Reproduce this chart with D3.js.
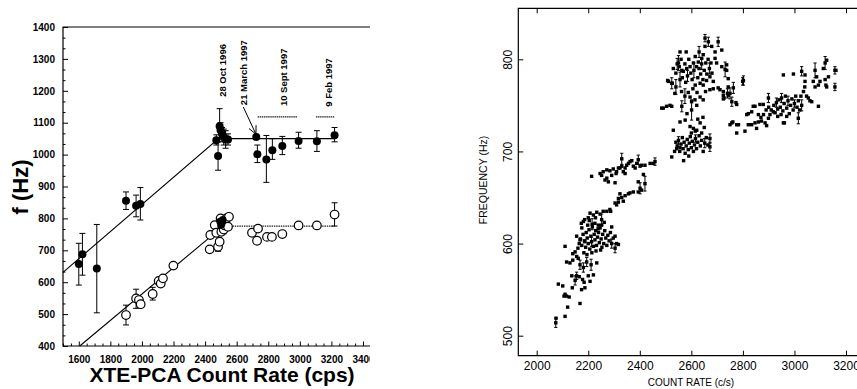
<!DOCTYPE html>
<html>
<head>
<meta charset="utf-8">
<script src="https://cdn.jsdelivr.net/npm/d3@7"></script>
<style>
  body { margin: 0; background: #fff; }
  svg { display: block; font-family: "Liberation Sans", Arial, sans-serif; }
</style>
</head>
<body>
<svg id="chart" width="857" height="389"></svg>
<script>
// ---------- left panel data: [rate, f, errLow, errHigh]
const upperQpo = [
  [1600, 657, 591, 722], [1623, 688, 622, 753], [1714, 643, 504, 781],
  [1899, 855, 828, 883], [1963, 840, 805, 873], [1990, 845, 795, 897],
  [2471, 1045, 1030, 1062], [2482, 996, 951, 1040], [2492, 1089, 1050, 1144],
  [2498, 1076, 1050, 1100], [2507, 1066, 1040, 1085], [2518, 1055, 1030, 1080],
  [2530, 1047, 1020, 1075], [2545, 1047, 1030, 1065], [2724, 1055, null, null],
  [2731, 1001, 975, 1030], [2788, 985, 913, 1060], [2826, 1014, 985, 1050],
  [2889, 1027, 1000, 1057], [2992, 1043, 1020, 1070], [3108, 1042, 1010, 1075],
  [3220, 1061, 1040, 1085]
];
const lowerQpo = [
  [1899, 497, 466, 528], [1963, 549, 518, 578], [1981, 544, null, null],
  [1992, 531, null, null], [2068, 563, 544, 584], [2106, 604, null, null],
  [2119, 596, null, null], [2133, 612, null, null], [2199, 652, null, null],
  [2429, 703, null, null], [2433, 748, null, null], [2461, 779, null, null],
  [2471, 755, null, null], [2482, 711, 697, 725], [2492, 727, null, null],
  [2498, 800, null, null], [2503, 758, null, null], [2513, 789, null, null],
  [2518, 765, 752, 778], [2524, 778, null, null], [2535, 800, null, null],
  [2545, 774, null, null], [2551, 805, null, null], [2697, 755, null, null],
  [2735, 768, null, null], [2729, 730, null, null], [2792, 742, null, null],
  [2823, 742, null, null], [2889, 751, null, null], [2992, 778, 773, 783],
  [3108, 778, 772, 784], [3220, 812, 776, 849]
];
const lowerFilled = [[2495, 790], [2505, 784], [2512, 796], [2500, 779]];
const upperFit = [[1500, 631], [2485, 1050], [3220, 1050]];
const lowerFitRise = [[1606, 400], [2515, 776]];
const lowerFitFlat = [[2515, 776], [3220, 776]];
const epochBars = [[2733, 2986, 1118], [3102, 3220, 1118]];
const epochLabels = [
  ['28 Oct 1996', 2511, 1181], ['21 March 1997', 2642, 1155],
  ['10 Sept 1997', 2900, 1152], ['9 Feb 1997', 3180, 1150]
];
const arrowFromTo = [[2642, 1149], [2722, 1064]];
const leftXTicks = d3.range(1600, 3401, 200);
const leftYTicks = d3.range(400, 1401, 100);

// ---------- right panel data: [rate, freq, err]
const lowBranch = [
  [2074,514,5],[2075,519,0],[2110,521,0],[2120,531,0],[2168,535,0],[2084,556,0],[2101,554,0],
  [2106,543,0],[2110,545,0],[2116,543,0],[2126,542,0],[2138,552,0],[2149,560,5],[2136,565,0],
  [2155,565,4],[2165,564,0],[2178,561,0],[2184,558,0],[2174,550,0],[2187,552,0],[2200,565,0],
  [2220,566,0],[2207,559,0],[2110,597,0],[2116,580,0],[2129,579,0],[2140,582,0],[2140,589,0],
  [2149,591,0],[2155,586,0],[2161,584,0],[2168,577,5],[2181,574,5],[2194,580,5],[2211,577,6],
  [2233,579,0],[2160,595,0],[2165,600,0],[2170,605,0],[2175,598,0],[2180,610,0],[2185,603,0],
  [2190,596,0],[2192,612,0],[2196,606,0],[2200,600,0],[2203,615,0],[2206,594,0],[2210,608,0],
  [2213,602,5],[2216,618,0],[2220,597,0],[2223,610,0],[2226,604,0],[2229,614,0],[2232,598,0],
  [2236,607,0],[2240,612,0],[2243,601,0],[2246,617,0],[2250,605,0],[2253,596,0],[2256,610,0],
  [2260,600,0],[2264,614,0],[2268,606,0],[2272,598,0],[2276,609,0],[2281,603,0],[2286,612,0],
  [2291,600,5],[2297,606,0],[2304,595,5],[2310,600,0],[2317,599,0],[2173,622,0],[2186,626,0],
  [2198,620,0],[2204,625,0],[2215,621,6],[2228,628,0],[2238,616,0],[2252,620,0],[2262,623,0],
  [2183,590,0],[2195,588,0],[2214,590,0],[2230,592,0],[2248,593,0],[2168,604,0],[2187,602,0],
  [2181,624,0],[2200,628,0],[2207,633,0],[2220,631,0],[2233,634,0],[2246,632,0],[2258,635,0],
  [2272,635,0],[2287,635,0],[2252,626,6],[2226,622,0],[2239,620,0],[2291,618,0],[2304,608,0],
  [2175,617,0],[2155,608,0]
];
const midBranch = [
  [2304,644,0],[2317,645,0],[2330,650,0],[2323,654,0],[2343,652,0],[2362,655,0],[2375,656,0],
  [2394,656,0],[2407,658,0],[2310,642,0],[2336,646,0],[2356,654,0],[2317,649,0],[2284,637,0],
  [2213,673,0],[2246,676,0],[2252,674,0],[2258,678,0],[2265,669,0],[2272,671,0],[2272,680,0],
  [2278,667,0],[2284,679,0],[2291,674,0],[2297,681,0],[2304,666,0],[2308,676,0],[2310,678,0],
  [2317,682,0],[2323,682,0],[2330,692,6],[2330,684,0],[2336,678,0],[2343,676,0],[2343,682,0],
  [2349,685,0],[2356,687,0],[2362,689,0],[2369,690,0],[2375,684,0],[2382,682,0],[2388,687,0],
  [2394,691,5],[2401,684,0],[2407,685,0],[2414,675,0],[2420,685,0],[2394,667,0],[2401,660,6],
  [2420,665,8],[2440,687,0],[2459,689,4],[2452,687,0]
];
const hookLow = [
  [2524,694,0],[2543,703,0],[2556,704,0],[2530,723,0],[2556,732,0],[2576,734,0],[2595,727,0],
  [2608,725,0],[2621,723,0],[2634,731,0],[2672,714,5],[2672,705,5],[2761,732,0],[2776,729,0],
  [2757,731,0],[2776,720,0],[2535,700,0],[2540,710,0],[2545,706,0],[2550,712,4],[2555,700,0],
  [2560,708,0],[2565,715,0],[2568,703,0],[2572,710,0],[2576,698,0],[2580,706,0],[2584,713,0],
  [2588,702,0],[2592,709,0],[2596,716,0],[2600,704,0],[2604,711,0],[2608,700,0],[2612,707,0],
  [2616,714,4],[2620,703,0],[2625,710,0],[2630,717,0],[2635,706,0],[2640,712,0],[2646,700,0],
  [2652,709,5],[2658,715,0],[2664,707,0],[2570,690,0],[2590,695,0],[2600,720,0],[2615,722,0],
  [2640,720,0],[2650,726,0],[2625,735,0],[2645,737,0],[2583,741,0]
];
const hookHigh = [
  [2491,747,0],[2485,747,0],[2504,749,0],[2517,750,0],[2524,749,0],[2508,777,0],[2526,774,0],
  [2511,776,0],[2524,774,6],[2556,808,0],[2550,796,8],[2556,778,8],[2553,792,0],[2563,788,0],
  [2569,787,0],[2582,790,0],[2595,792,0],[2608,796,0],[2627,797,0],[2640,801,0],[2646,805,0],
  [2653,814,0],[2679,814,0],[2692,808,0],[2704,819,5],[2653,823,4],[2666,819,5],[2698,796,0],
  [2718,792,0],[2737,788,0],[2743,779,0],[2750,763,6],[2724,761,0],[2711,767,0],[2595,759,0],
  [2601,754,0],[2614,756,0],[2621,750,0],[2601,745,11],[2634,774,0],[2646,772,0],[2659,777,0],
  [2672,781,0],[2634,759,0],[2646,756,0],[2672,767,0],[2685,768,0],[2757,754,5],[2692,801,0],
  [2718,810,0],[2731,789,8],[2737,794,0],[2685,776,0],[2704,769,0],[2724,765,0],[2743,770,0],
  [2763,769,6],[2724,757,0],[2743,761,0],[2776,751,0],[2802,777,5],[2563,749,6],[2540,785,0],
  [2545,795,6],[2560,800,0],[2565,780,0],[2575,795,0],[2578,775,0],[2585,782,6],[2590,800,0],
  [2598,785,0],[2603,778,0],[2610,788,8],[2615,772,0],[2620,792,0],[2625,780,0],[2630,790,0],
  [2636,784,0],[2640,795,6],[2645,778,0],[2650,788,0],[2656,796,0],[2660,784,0],[2665,800,0],
  [2670,790,6],[2676,796,0],[2680,785,0],[2588,764,0],[2606,768,0],[2622,764,0],[2655,765,0],
  [2575,760,8],[2562,765,0],[2540,770,8],[2530,790,0],[2536,763,0],[2615,803,0],[2630,808,6],
  [2580,808,0]
];
const rightBranch = [
  [2808,722,0],[2821,729,0],[2834,729,0],[2847,731,0],[2860,732,0],[2872,733,0],[2815,740,0],
  [2834,743,0],[2847,749,0],[2866,751,0],[2879,751,0],[2853,725,0],[2886,731,0],[2899,736,0],
  [2905,740,0],[2918,743,0],[2892,728,0],[2899,758,5],[2957,783,0],[2996,784,0],[2957,731,0],
  [3015,736,6],[3028,750,6],[3028,787,5],[3041,783,0],[3041,776,0],[3047,760,0],[3060,755,0],
  [3080,788,8],[3086,781,0],[3093,772,0],[3093,749,0],[3073,776,0],[3080,770,0],[3112,790,0],
  [3119,796,7],[3125,799,0],[3119,778,0],[3125,770,0],[3132,781,0],[3157,788,4],[3157,770,4],
  [3054,758,0],[3067,754,0],[2773,753,0],[2799,776,4],[2727,758,0],[2740,763,5],[2750,729,0],
  [2783,729,0],[2840,749,0],[2821,741,0],[2961,731,0],[3099,776,0],[3122,772,0],[3161,788,0],
  [2910,745,0],[2920,750,0],[2925,742,0],[2930,753,5],[2935,746,0],[2940,756,0],[2945,748,0],
  [2950,758,5],[2955,744,0],[2960,752,0],[2965,760,0],[2970,747,0],[2975,755,5],[2980,741,0],
  [2985,750,0],[2990,757,0],[2995,745,0],[3000,752,4],[3005,760,0],[3010,748,0],[3015,755,0],
  [3020,745,0],[3025,760,0],[3035,765,0],[3040,770,0],[2880,740,0],[2890,745,0],[2900,748,0],
  [2870,737,0],[2860,740,0],[2935,738,0],[2948,740,0],[2970,738,0]
];
const rightXTicks = d3.range(2000, 3201, 200);
const rightYTicks = [500, 600, 700, 800];

const svg = d3.select('#chart');

// =============== left panel
const xL = d3.scaleLinear().domain([1500, 3400]).range([63, 363]);
const yL = d3.scaleLinear().domain([400, 1400]).range([346, 27]);
const leftEnd = 370;

svg.append('clipPath').attr('id', 'clipL')
  .append('rect').attr('x', 0).attr('y', 0).attr('width', leftEnd).attr('height', 389);
const gL = svg.append('g').attr('clip-path', 'url(#clipL)');

gL.append('path')
  .attr('d', `M${leftEnd},${yL(1400)}H${xL(1500)}V${yL(400)}H${leftEnd}`)
  .attr('fill', 'none').attr('stroke', '#000').attr('stroke-width', 1.2);

const minorX = d3.range(1500, 3441, 50).filter(v => v % 200 !== 0);
const minorY = d3.range(0, 30).map(i => 400 + i * 100 / 3).filter((v, i) => i % 3 !== 0);

gL.append('g').attr('transform', `translate(0,${yL(400)})`)
  .call(d3.axisBottom(xL).tickValues(leftXTicks).tickSize(-4.5).tickPadding(9.5).tickFormat(d3.format('d')))
  .call(g => g.select('.domain').remove())
  .attr('font-family', null).attr('font-size', 10).attr('font-weight', 'bold');
gL.append('g').attr('transform', `translate(0,${yL(400)})`)
  .call(d3.axisBottom(xL).tickValues(minorX).tickSize(-2.5).tickFormat(''))
  .call(g => g.select('.domain').remove());
gL.append('g').attr('transform', `translate(${xL(1500)},0)`)
  .call(d3.axisLeft(yL).tickValues(leftYTicks).tickSize(-5).tickPadding(8).tickFormat(d3.format('d')))
  .call(g => g.select('.domain').remove())
  .attr('font-family', null).attr('font-size', 10).attr('font-weight', 'bold');
gL.append('g').attr('transform', `translate(${xL(1500)},0)`)
  .call(d3.axisLeft(yL).tickValues(minorY).tickSize(-2.5).tickFormat(''))
  .call(g => g.select('.domain').remove());

const lineL = d3.line().x(d => xL(d[0])).y(d => yL(d[1]));
gL.append('path').datum(upperFit).attr('d', lineL)
  .attr('fill', 'none').attr('stroke', '#000').attr('stroke-width', 1.1);
gL.append('path').datum(lowerFitRise).attr('d', lineL)
  .attr('fill', 'none').attr('stroke', '#000').attr('stroke-width', 1.1);
gL.append('path').datum(lowerFitFlat).attr('d', lineL)
  .attr('fill', 'none').attr('stroke', '#222').attr('stroke-width', 1.3).attr('stroke-dasharray', '1.5,0.8');

gL.selectAll('.epoch-bar').data(epochBars).join('line')
  .attr('x1', d => xL(d[0])).attr('x2', d => xL(d[1]))
  .attr('y1', d => yL(d[2])).attr('y2', d => yL(d[2]))
  .attr('stroke', '#222').attr('stroke-width', 1.2).attr('stroke-dasharray', '1.5,0.6');

gL.selectAll('.epoch-label').data(epochLabels).join('text')
  .attr('transform', d => `translate(${xL(d[1])},${yL(d[2])}) rotate(-90)`)
  .attr('dy', '0.35em').attr('font-size', 9.5).attr('font-weight', 'bold')
  .text(d => d[0]);

// arrow to the 21 March point
const a0 = arrowFromTo[0], a1 = arrowFromTo[1];
const ax0 = xL(a0[0]), ay0 = yL(a0[1]), ax1 = xL(a1[0]), ay1 = yL(a1[1]);
const ang = Math.atan2(ay1 - ay0, ax1 - ax0);
gL.append('line').attr('x1', ax0).attr('y1', ay0).attr('x2', ax1).attr('y2', ay1)
  .attr('stroke', '#000').attr('stroke-width', 1);
[0.45, -0.45].forEach(da => {
  gL.append('line').attr('x1', ax1).attr('y1', ay1)
    .attr('x2', ax1 - 9 * Math.cos(ang + da)).attr('y2', ay1 - 9 * Math.sin(ang + da))
    .attr('stroke', '#000').attr('stroke-width', 1);
});

function errorBars(g, data, cap) {
  const withErr = data.filter(d => d[2] != null);
  g.selectAll(null).data(withErr).join('line')
    .attr('x1', d => xL(d[0])).attr('x2', d => xL(d[0]))
    .attr('y1', d => yL(d[2])).attr('y2', d => yL(d[3]))
    .attr('stroke', '#000').attr('stroke-width', 1);
  ['2', '3'].forEach(k => {
    g.selectAll(null).data(withErr).join('line')
      .attr('x1', d => xL(d[0]) - cap).attr('x2', d => xL(d[0]) + cap)
      .attr('y1', d => yL(d[+k])).attr('y2', d => yL(d[+k]))
      .attr('stroke', '#000').attr('stroke-width', 1);
  });
}
errorBars(gL, upperQpo, 3);
errorBars(gL, lowerQpo, 3);

gL.selectAll('.open').data(lowerQpo).join('circle')
  .attr('cx', d => xL(d[0])).attr('cy', d => yL(d[1])).attr('r', 4.3)
  .attr('fill', '#fff').attr('stroke', '#000').attr('stroke-width', 1.2);
gL.selectAll('.filled-low').data(lowerFilled).join('circle')
  .attr('cx', d => xL(d[0])).attr('cy', d => yL(d[1])).attr('r', 3.8).attr('fill', '#000');
gL.selectAll('.filled').data(upperQpo).join('circle')
  .attr('cx', d => xL(d[0])).attr('cy', d => yL(d[1])).attr('r', 4).attr('fill', '#000');

svg.append('text')
  .attr('transform', 'translate(20,187) rotate(-90)')
  .attr('text-anchor', 'middle').attr('dy', '0.35em')
  .attr('font-size', 22).attr('font-weight', 'bold').text('f (Hz)');
svg.append('text')
  .attr('x', 222).attr('y', 382).attr('text-anchor', 'middle')
  .attr('font-size', 21).attr('font-weight', 'bold').text('XTE-PCA Count Rate (cps)');

// =============== right panel
const xR = d3.scaleLinear().domain([2000, 3200]).range([536.7, 846]);
const yR = d3.scaleLinear().domain([500, 800]).range([335.7, 59.3]);
const rLeft = 518.3, rTop = 8.3, rBottom = 355.7, rRight = 857;

const gR = svg.append('g');
gR.append('path')
  .attr('d', `M${rRight},${rTop}H${rLeft}V${rBottom}H${rRight}`)
  .attr('fill', 'none').attr('stroke', '#000').attr('stroke-width', 1.2);

gR.append('g').attr('transform', `translate(0,${rBottom})`)
  .call(d3.axisBottom(xR).tickValues(rightXTicks).tickSize(-5).tickPadding(6).tickFormat(d3.format('d')))
  .call(g => g.select('.domain').remove())
  .attr('font-family', null).attr('font-size', 12);
gR.append('g').attr('transform', `translate(0,${rTop})`)
  .call(d3.axisTop(xR).tickValues(rightXTicks).tickSize(-5).tickFormat(''))
  .call(g => g.select('.domain').remove());
gR.append('g').attr('transform', `translate(${rLeft},0)`)
  .call(d3.axisLeft(yR).tickValues(rightYTicks).tickSize(-5).tickFormat(d3.format('d')))
  .call(g => g.select('.domain').remove())
  .attr('font-family', null).attr('font-size', 12)
  .call(g => g.selectAll('text')
    .attr('x', null).attr('text-anchor', 'middle').attr('dy', '0.35em')
    .attr('transform', 'translate(-10.5,0) rotate(-90)'));

const allRight = [lowBranch, midBranch, hookLow, hookHigh, rightBranch];
allRight.forEach(series => {
  const withErr = series.filter(d => d[2] > 0);
  gR.selectAll(null).data(withErr).join('path')
    .attr('d', d => {
      const x = xR(d[0]), y0 = yR(d[1] - d[2]), y1 = yR(d[1] + d[2]);
      return `M${x},${y0}V${y1}M${x - 1.6},${y0}H${x + 1.6}M${x - 1.6},${y1}H${x + 1.6}`;
    })
    .attr('fill', 'none').attr('stroke', '#000').attr('stroke-width', 1);
  gR.selectAll(null).data(series).join('rect')
    .attr('x', d => xR(d[0]) - 1.7).attr('y', d => yR(d[1]) - 1.7)
    .attr('width', 3.4).attr('height', 3.4).attr('fill', '#000');
});

svg.append('text')
  .attr('transform', 'translate(483,180) rotate(-90)')
  .attr('text-anchor', 'middle').attr('dy', '0.35em')
  .attr('font-size', 10.5).text('FREQUENCY (Hz)');
svg.append('text')
  .attr('x', 691).attr('y', 386).attr('text-anchor', 'middle')
  .attr('font-size', 10).text('COUNT RATE (c/s)');
</script>
</body>
</html>
